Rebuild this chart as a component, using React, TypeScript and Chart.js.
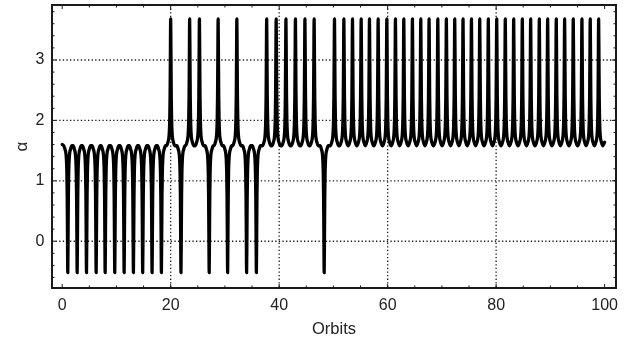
import React, { useEffect, useRef } from 'react';
import { Chart, registerables } from 'chart.js';

Chart.register(...registerables);

// ---- values ----
const baseAlpha = 1.58;
const peakAlpha = 3.68;
const dipAlpha = -0.52;

// early regime: downward spikes only
const dipTimesEarly = [1.03, 2.76, 4.48, 6.26, 7.92, 9.69, 11.42, 13.13, 14.84, 16.57, 18.29];
// mixed regime
const mixedTimes = [20.0, 21.9, 23.5, 25.3, 27.1, 28.75, 30.5, 32.2, 34.0, 35.8, 37.7, 39.45, 41.25, 43.0, 44.75, 46.45, 48.3];
const mixedKinds = ['P', 'D', 'P', 'P', 'D', 'P', 'D', 'P', 'D', 'D', 'P', 'P', 'P', 'P', 'P', 'P', 'D'];
// late regime: upward spikes only
const peakTimesLate = [
  50.2, 51.93, 53.52, 55.12, 56.65, 58.25, 59.85, 61.44, 62.98, 64.57, 66.11, 67.64, 69.25, 70.83, 72.37, 73.9,
  75.45, 76.98, 78.56, 80.11, 81.69, 83.24, 84.83, 86.37, 87.96, 89.5, 91.09, 92.63, 94.22, 95.82, 97.35, 98.9,
];
// shape of one spike: offset (orbits) -> fraction of full excursion
const spikeOffsets = [-0.75, -0.5, -0.35, -0.25, -0.17, -0.11, -0.06, 0, 0.06, 0.11, 0.17, 0.25, 0.35, 0.5, 0.75];
const spikeShape = [0, 0.029, 0.058, 0.108, 0.21, 0.385, 0.68, 1, 0.68, 0.385, 0.21, 0.108, 0.058, 0.029, 0];
const startValue = { x: 0, y: 1.6 };
const endValue = { x: 100, y: 1.64 };

const xTickValues = [0, 20, 40, 60, 80, 100];
const yTickValues = [0, 1, 2, 3];
const xGridValues = [20, 40, 60, 80];
const yGridValues = [0, 1, 2, 3];

function buildPoints() {
  const events: { t: number; tip: number }[] = [];
  dipTimesEarly.forEach((t) => events.push({ t, tip: dipAlpha }));
  mixedTimes.forEach((t, i) => events.push({ t, tip: mixedKinds[i] === 'P' ? peakAlpha : dipAlpha }));
  peakTimesLate.forEach((t) => events.push({ t, tip: peakAlpha }));
  events.sort((a, b) => a.t - b.t);
  const pts: { x: number; y: number }[] = [startValue];
  events.forEach((e) => {
    spikeOffsets.forEach((o, i) => {
      pts.push({ x: e.t + o, y: baseAlpha + (e.tip - baseAlpha) * spikeShape[i] });
    });
  });
  pts.push(endValue);
  return pts;
}

const FONT = "'Liberation Sans', Arial, sans-serif";
const INK = '#1a1a1a';

const framePlugin = {
  id: 'framePlugin',
  beforeDatasetsDraw(chart: any) {
    const { ctx, chartArea: a, scales } = chart;
    const x = scales.x;
    const y = scales.y;
    ctx.save();
    ctx.strokeStyle = INK;
    ctx.lineWidth = 1.3;
    ctx.setLineDash([1.3, 2.3]);
    xGridValues.forEach((v) => {
      const px = x.getPixelForValue(v);
      ctx.beginPath();
      ctx.moveTo(px, a.top);
      ctx.lineTo(px, a.bottom);
      ctx.stroke();
    });
    yGridValues.forEach((v) => {
      const py = y.getPixelForValue(v);
      ctx.beginPath();
      ctx.moveTo(a.left, py);
      ctx.lineTo(a.right, py);
      ctx.stroke();
    });
    ctx.restore();
  },
  afterDatasetsDraw(chart: any) {
    const { ctx, chartArea: a, scales } = chart;
    const x = scales.x;
    const y = scales.y;
    ctx.save();
    ctx.strokeStyle = INK;
    ctx.setLineDash([]);
    ctx.lineWidth = 1;
    for (let v = 0; v <= 100; v += 5) {
      const px = x.getPixelForValue(v);
      const len = v % 20 === 0 ? 4 : 2.5;
      ctx.beginPath();
      ctx.moveTo(px, a.bottom);
      ctx.lineTo(px, a.bottom - len);
      ctx.moveTo(px, a.top);
      ctx.lineTo(px, a.top + len);
      ctx.stroke();
    }
    for (let k = -3; k <= 19; k++) {
      const v = k * 0.2;
      const py = y.getPixelForValue(v);
      if (py < a.top || py > a.bottom) continue;
      const len = k % 5 === 0 ? 4 : 2.5;
      ctx.beginPath();
      ctx.moveTo(a.left, py);
      ctx.lineTo(a.left + len, py);
      ctx.moveTo(a.right, py);
      ctx.lineTo(a.right - len, py);
      ctx.stroke();
    }
    ctx.lineWidth = 2;
    ctx.strokeRect(a.left, a.top, a.right - a.left, a.bottom - a.top);
    ctx.restore();
  },
};

export default function App() {
  const ref = useRef<HTMLCanvasElement>(null);
  useEffect(() => {
    if (!ref.current) return;
    const chart = new Chart(ref.current, {
      type: 'line',
      data: {
        datasets: [
          {
            data: buildPoints(),
            borderColor: '#000',
            borderWidth: 3.3,
            pointRadius: 0,
            fill: false,
            cubicInterpolationMode: 'monotone',
            borderJoinStyle: 'round',
            borderCapStyle: 'round',
          } as any,
        ],
      },
      options: {
        animation: false,
        responsive: false,
        maintainAspectRatio: false,
        layout: { padding: { top: 5, right: 15, left: 0, bottom: 0 } },
        plugins: { legend: { display: false }, tooltip: { enabled: false } },
        scales: {
          x: {
            type: 'linear',
            min: -1.88,
            max: 102.1,
            grid: { display: false, drawTicks: false },
            border: { display: false },
            afterBuildTicks: (s: any) => {
              s.ticks = xTickValues.map((v) => ({ value: v }));
            },
            afterFit: (s: any) => {
              s.height = 51;
              s.paddingLeft = 0;
              s.paddingRight = 0;
            },
            ticks: {
              font: { family: FONT, size: 16 },
              color: '#222',
              padding: 7.5,
              maxRotation: 0,
              autoSkip: false,
            },
            title: {
              display: true,
              text: 'Orbits',
              font: { family: FONT, size: 16.5 },
              color: '#222',
              padding: { top: 0, bottom: 0 },
            },
          },
          y: {
            type: 'linear',
            min: -0.774,
            max: 3.91,
            grid: { display: false, drawTicks: false },
            border: { display: false },
            afterBuildTicks: (s: any) => {
              s.ticks = yTickValues.map((v) => ({ value: v }));
            },
            afterFit: (s: any) => {
              s.width = 52;
              s.paddingTop = 0;
              s.paddingBottom = 0;
            },
            ticks: {
              font: { family: FONT, size: 16 },
              color: '#222',
              padding: 7.5,
              autoSkip: false,
            },
            title: {
              display: true,
              text: 'α',
              font: { family: FONT, size: 17 },
              color: '#222',
              padding: { top: 12.5, bottom: 0 },
            },
          },
        },
      },
      plugins: [framePlugin],
    });
    return () => chart.destroy();
  }, []);
  return (
    <div style={{ position: 'fixed', left: 0, top: 0, width: 631, height: 339, background: '#fff' }}>
      <canvas ref={ref} width={631} height={339} style={{ display: 'block' }} />
    </div>
  );
}
